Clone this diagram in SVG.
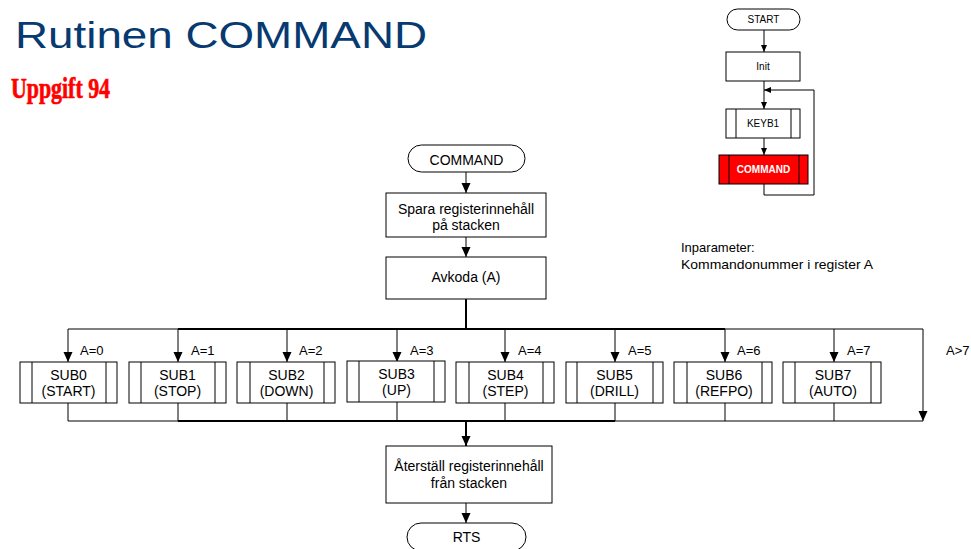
<svg xmlns="http://www.w3.org/2000/svg" width="971" height="549" viewBox="0 0 971 549">
<style>
text{font-family:"Liberation Sans",Arial,sans-serif;fill:#000}
.box{fill:#fff;stroke:#000;stroke-width:1}
.t14{font-size:14px;text-anchor:middle}
.t13{font-size:13px}
.t10{font-size:10px;text-anchor:middle}
.ln{fill:none;stroke:#000;stroke-width:1}
.thk{fill:none;stroke:#000;stroke-width:2}
</style>
<defs>
<marker id="ah" markerUnits="userSpaceOnUse" markerWidth="10" markerHeight="10" refX="10" refY="4.5" orient="auto">
<path d="M0,0 L10,4.5 L0,9 Z" fill="#000"/>
</marker>
<marker id="as" markerUnits="userSpaceOnUse" markerWidth="8" markerHeight="8" refX="7" refY="3" orient="auto">
<path d="M0,0 L7,3 L0,6 Z" fill="#000"/>
</marker>
</defs>
<rect width="971" height="549" fill="#fff"/>
<text x="15" y="48" font-size="36" textLength="412" lengthAdjust="spacingAndGlyphs" style="fill:#073a70">Rutinen COMMAND</text>
<text x="11" y="98" font-size="30" font-weight="bold" textLength="99" lengthAdjust="spacingAndGlyphs" style="font-family:'Liberation Serif','Times New Roman',serif;fill:#ff0000;stroke:#ff0000;stroke-width:0.7">Uppgift 94</text>

<g id="connectors">
<line class="ln" x1="764" y1="30" x2="764" y2="52" marker-end="url(#as)"/>
<line class="ln" x1="764" y1="81" x2="764" y2="109" marker-end="url(#as)"/>
<line class="ln" x1="764" y1="138" x2="764" y2="155" marker-end="url(#as)"/>
<polyline class="ln" points="764,184 764,195 814,195 814,90 764,90" marker-end="url(#as)"/>

<line class="ln" x1="466" y1="172" x2="466" y2="193" marker-end="url(#ah)"/>
<line class="ln" x1="466" y1="237" x2="466" y2="257" marker-end="url(#ah)"/>
<line class="thk" x1="466" y1="299" x2="466" y2="329"/>
<line class="ln" x1="68" y1="329" x2="923" y2="329"/>
<line class="thk" x1="178" y1="329" x2="725" y2="329"/>
<line class="ln" x1="68" y1="329" x2="68" y2="362" marker-end="url(#ah)"/>
<line class="ln" x1="178" y1="329" x2="178" y2="362" marker-end="url(#ah)"/>
<line class="ln" x1="287" y1="329" x2="287" y2="362" marker-end="url(#ah)"/>
<line class="ln" x1="397" y1="329" x2="397" y2="362" marker-end="url(#ah)"/>
<line class="ln" x1="505" y1="329" x2="505" y2="362" marker-end="url(#ah)"/>
<line class="ln" x1="615" y1="329" x2="615" y2="362" marker-end="url(#ah)"/>
<line class="ln" x1="725" y1="329" x2="725" y2="362" marker-end="url(#ah)"/>
<line class="ln" x1="834" y1="329" x2="834" y2="362" marker-end="url(#ah)"/>
<line class="ln" x1="923" y1="329" x2="923" y2="421" marker-end="url(#ah)"/>
<line class="ln" x1="68" y1="403" x2="68" y2="421"/>
<line class="ln" x1="178" y1="403" x2="178" y2="421"/>
<line class="ln" x1="287" y1="403" x2="287" y2="421"/>
<line class="ln" x1="397" y1="402" x2="397" y2="421"/>
<line class="ln" x1="505" y1="403" x2="505" y2="421"/>
<line class="ln" x1="615" y1="403" x2="615" y2="421"/>
<line class="ln" x1="725" y1="403" x2="725" y2="421"/>
<line class="ln" x1="834" y1="403" x2="834" y2="421"/>
<line class="ln" x1="68" y1="421" x2="923" y2="421"/>
<line class="thk" x1="178" y1="421" x2="615" y2="421"/>
<line class="thk" x1="466" y1="421" x2="466" y2="446" marker-end="url(#ah)"/>
<line class="ln" x1="466" y1="503" x2="466" y2="523" marker-end="url(#ah)"/>
</g>

<g id="mini-start"><rect class="box" x="727" y="9" width="73" height="21" rx="10.5"/><text class="t10" x="763.5" y="23">START</text></g>
<g id="mini-init"><rect class="box" x="726" y="52" width="74" height="29"/><text class="t10" x="763" y="70">Init</text></g>
<g id="mini-keyb1"><rect class="box" x="726" y="109" width="74" height="29"/><line class="ln" x1="736" y1="109" x2="736" y2="138"/><line class="ln" x1="791" y1="109" x2="791" y2="138"/><text class="t10" x="763" y="127">KEYB1</text></g>
<g id="mini-command"><rect x="719" y="155" width="89" height="29" fill="#ff0000" stroke="#000"/><line class="ln" x1="729" y1="155" x2="729" y2="184"/><line class="ln" x1="799" y1="155" x2="799" y2="184"/><text class="t10" x="763.5" y="173" font-weight="bold" style="fill:#fff">COMMAND</text></g>

<g id="note"><text class="t13" x="681" y="252">Inparameter:</text><text class="t13" x="681" y="269" textLength="192" lengthAdjust="spacingAndGlyphs">Kommandonummer i register A</text></g>

<g id="command"><rect class="box" x="408" y="145" width="117" height="27" rx="13.5"/><text class="t14" x="466.5" y="165" font-size="13">COMMAND</text></g>
<g id="spara"><rect class="box" x="386" y="193" width="160" height="44"/><text class="t14" x="466" y="214">Spara registerinnehåll</text><text class="t14" x="466" y="230">på stacken</text></g>
<g id="avkoda"><rect class="box" x="386" y="257" width="160" height="42"/><text class="t14" x="466" y="282">Avkoda (A)</text></g>

<g id="sub0"><rect class="box" x="20" y="362" width="97" height="41"/><line class="ln" x1="32" y1="362" x2="32" y2="403"/><line class="ln" x1="106" y1="362" x2="106" y2="403"/><text class="t14" x="68.5" y="380">SUB0</text><text class="t14" x="68.5" y="396">(START)</text></g>
<g id="sub1"><rect class="box" x="129" y="362" width="97" height="41"/><line class="ln" x1="141" y1="362" x2="141" y2="403"/><line class="ln" x1="215" y1="362" x2="215" y2="403"/><text class="t14" x="177.5" y="380">SUB1</text><text class="t14" x="177.5" y="396">(STOP)</text></g>
<g id="sub2"><rect class="box" x="237" y="362" width="98" height="41"/><line class="ln" x1="250" y1="362" x2="250" y2="403"/><line class="ln" x1="324" y1="362" x2="324" y2="403"/><text class="t14" x="286.5" y="380">SUB2</text><text class="t14" x="286.5" y="396">(DOWN)</text></g>
<g id="sub3"><rect class="box" x="347" y="361" width="98" height="41"/><line class="ln" x1="359" y1="361" x2="359" y2="402"/><line class="ln" x1="434" y1="361" x2="434" y2="402"/><text class="t14" x="396.5" y="379">SUB3</text><text class="t14" x="396.5" y="395">(UP)</text></g>
<g id="sub4"><rect class="box" x="456" y="362" width="98" height="41"/><line class="ln" x1="469" y1="362" x2="469" y2="403"/><line class="ln" x1="543" y1="362" x2="543" y2="403"/><text class="t14" x="505.5" y="380">SUB4</text><text class="t14" x="505.5" y="396">(STEP)</text></g>
<g id="sub5"><rect class="box" x="566" y="362" width="97" height="41"/><line class="ln" x1="577" y1="362" x2="577" y2="403"/><line class="ln" x1="653" y1="362" x2="653" y2="403"/><text class="t14" x="614.5" y="380">SUB5</text><text class="t14" x="614.5" y="396">(DRILL)</text></g>
<g id="sub6"><rect class="box" x="674" y="362" width="98" height="41"/><line class="ln" x1="687" y1="362" x2="687" y2="403"/><line class="ln" x1="762" y1="362" x2="762" y2="403"/><text class="t14" x="724" y="380">SUB6</text><text class="t14" x="724" y="396">(REFPO)</text></g>
<g id="sub7"><rect class="box" x="783" y="362" width="98" height="41"/><line class="ln" x1="795" y1="362" x2="795" y2="403"/><line class="ln" x1="871" y1="362" x2="871" y2="403"/><text class="t14" x="833" y="380">SUB7</text><text class="t14" x="833" y="396">(AUTO)</text></g>

<g id="labels">
<text class="t13" x="80" y="355">A=0</text>
<text class="t13" x="191" y="355">A=1</text>
<text class="t13" x="299" y="355">A=2</text>
<text class="t13" x="410" y="355">A=3</text>
<text class="t13" x="518" y="355">A=4</text>
<text class="t13" x="628" y="355">A=5</text>
<text class="t13" x="737" y="355">A=6</text>
<text class="t13" x="847" y="355">A=7</text>
<text class="t13" x="946" y="355">A&gt;7</text>
</g>

<g id="aterstall"><rect class="box" x="386" y="446" width="166" height="57"/><text class="t14" x="469" y="471">Återställ registerinnehåll</text><text class="t14" x="469" y="488">från stacken</text></g>
<g id="rts"><rect class="box" x="407" y="523" width="119" height="28" rx="14"/><text class="t14" x="466.5" y="542">RTS</text></g>
</svg>
